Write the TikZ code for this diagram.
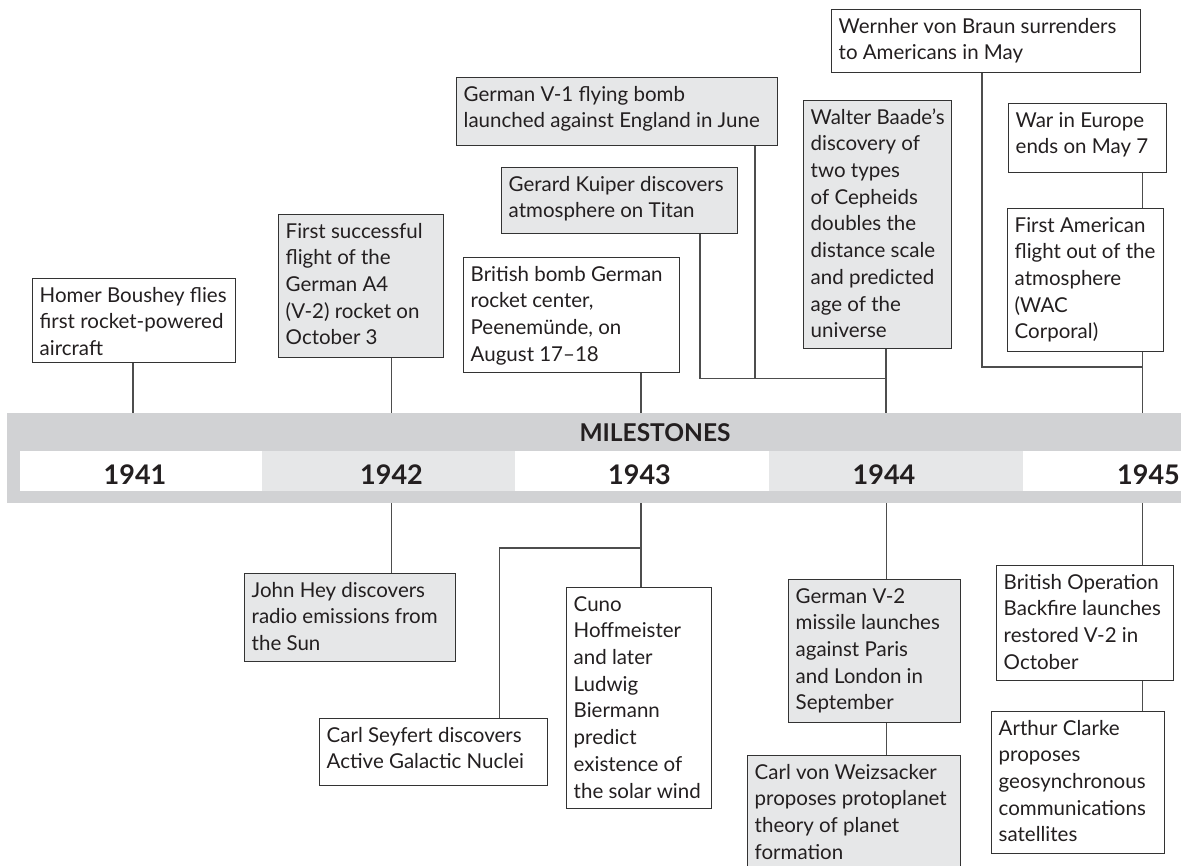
\documentclass[tikz,border=0pt]{standalone}
\usepackage{fontspec}
\setmainfont{Lato}

\definecolor{bandgray}{RGB}{209,210,212}
\definecolor{cellgray}{RGB}{230,231,232}
\definecolor{boxgray}{RGB}{230,231,232}
\definecolor{boxline}{RGB}{51,51,51}
\definecolor{linegray}{RGB}{77,77,77}
\definecolor{ink}{RGB}{35,31,32}

\newcommand\evtfont{\fontsize{20.5}{26.7}\selectfont}
\newcommand\yearfont{\fontsize{27}{30}\selectfont\bfseries}
\newcommand\headfont{\fontsize{24.5}{28}\selectfont\bfseries}

% \evbox{name}{style}{left}{top}{right}{bottom}{text}
\newcommand\evbox[7]{%
  \node[#2] (#1) at (#3,#4)
    {\parbox[c][\dimexpr#6pt-#4pt\relax][t]{\dimexpr#5pt-#3pt-14pt\relax}%
      {\raggedright\vspace*{4.8pt}\strut#7}};}

\begin{document}
\begin{tikzpicture}[x=1pt,y=-1pt,
  evt/.style={draw=boxline, line width=1.4pt, inner xsep=7pt, inner ysep=0pt,
              anchor=north west, font=\evtfont, text=ink},
  plain/.style={evt, fill=white},
  shaded/.style={evt, fill=boxgray},
  link/.style={draw=linegray, line width=1.2pt},
  cell/.style={inner sep=0pt, anchor=north west, minimum height=40pt},
  yearlbl/.style={anchor=base, inner sep=0pt, font=\yearfont, text=ink}]

\useasboundingbox (0,0) rectangle (1181,866);

% timeline band with year cells
\node[inner sep=0pt, anchor=north west, fill=bandgray,
      minimum width=1180pt, minimum height=90pt] (band) at (7,413) {};
\node[cell, fill=white,    minimum width=242pt] (c41) at (20,451) {};
\node[cell, fill=cellgray, minimum width=253pt] (c42) at (262,451) {};
\node[cell, fill=white,    minimum width=254pt] (c43) at (515,451) {};
\node[cell, fill=cellgray, minimum width=254pt] (c44) at (769,451) {};
\node[cell, fill=white,    minimum width=170pt] (c45) at (1023,451) {};

\node[anchor=base, inner sep=0pt, font=\headfont, text=ink] (head) at (655,441.5) {MILESTONES};
\node[yearlbl] (y41) at (135,484) {1941};
\node[yearlbl] (y42) at (391.5,484) {1942};
\node[yearlbl] (y43) at (639.5,484) {1943};
\node[yearlbl] (y44) at (884,484) {1944};
\node[yearlbl] (y45) at (1148.5,484) {1945};

% attachment points on the band
\coordinate (t41) at (133,413);
\coordinate (t42) at (391.5,413);
\coordinate (t43) at (641,413);
\coordinate (t44) at (886,413);
\coordinate (t45) at (1142.5,413);
\coordinate (b42) at (391.5,503);
\coordinate (b43) at (641,503);
\coordinate (b44) at (886.5,503);
\coordinate (b45) at (1142.5,503);

% junctions and drop lines
\coordinate (j44) at (886,378.3);
\coordinate (j45) at (1142.5,367);
\coordinate (j43) at (641,548);
\coordinate (kx) at (700,0);
\coordinate (vx) at (755,0);
\coordinate (bx) at (982,0);
\coordinate (sx) at (499.3,0);

% events above the band
\evbox{homer}{plain}{32}{278}{235}{362}{Homer Boushey flies\\first rocket-powered\\aircraft}
\evbox{first}{shaded}{278}{214}{443}{357}{First successful\\flight of the\\German A4\\(V-2) rocket on\\October 3}
\evbox{bomb}{plain}{463}{257}{679}{372}{British bomb German\\rocket center,\\Peenemünde, on\\August 17--18}
\evbox{kuiper}{shaded}{501}{167}{737}{233}{Gerard Kuiper discovers\\atmosphere on Titan}
\evbox{v1}{shaded}{456}{77}{777}{145}{German V-1 flying bomb\\launched against England in June}
\evbox{baade}{shaded}{803}{100}{951}{348}{Walter Baade’s\\discovery of\\two types\\of Cepheids\\doubles the\\distance scale\\and predicted\\age of the\\universe}
\evbox{braun}{plain}{831}{9}{1140}{72}{Wernher von Braun surrenders\\to Americans in May}
\evbox{war}{plain}{1008}{103}{1166}{172}{War in Europe\\ends on May 7}
\evbox{wac}{plain}{1007}{208}{1163}{351}{First American\\flight out of the\\atmosphere\\(WAC\\Corporal)}

% events below the band
\evbox{hey}{shaded}{244}{573}{455}{661}{John Hey discovers\\radio emissions from\\the Sun}
\evbox{seyfert}{plain}{319}{718}{547}{785}{Carl Seyfert discovers\\Active Galactic Nuclei}
\evbox{cuno}{plain}{566}{587}{711}{808}{Cuno\\Hoffmeister\\and later\\Ludwig\\Biermann\\predict\\existence of\\the solar wind}
\evbox{v2}{shaded}{788}{579}{960}{722}{German V-2\\missile launches\\against Paris\\and London in\\September}
\evbox{weiz}{shaded}{747}{755}{960}{880}{Carl von Weizsacker\\proposes protoplanet\\theory of planet\\formation}
\evbox{backfire}{plain}{996}{565}{1173}{680}{British Operation\\Backfire launches\\restored V-2 in\\October}
\evbox{clarke}{plain}{991}{711}{1164}{853}{Arthur Clarke\\proposes\\geosynchronous\\communications\\satellites}

% connectors above
\draw[link] (homer.south -| t41) -- (t41);
\draw[link] (first.south -| t42) -- (t42);
\draw[link] (bomb.south -| t43) -- (t43);
\draw[link] (baade.south -| t44) -- (t44);
\draw[link] (kuiper.south -| kx) |- (j44);
\draw[link] (v1.south -| vx) -- (vx |- j44);
\draw[link] (braun.south -| bx) |- (j45);
\draw[link] (war.south -| t45) -- (wac.north -| t45);
\draw[link] (wac.south -| t45) -- (t45);

% connectors below
\draw[link] (b42) -- (hey.north -| b42);
\draw[link] (b43) -- (cuno.north -| b43);
\draw[link] (seyfert.north -| sx) |- (j43);
\draw[link] (b44) -- (v2.north -| b44);
\draw[link] (v2.south -| b44) -- (weiz.north -| b44);
\draw[link] (b45) -- (backfire.north -| b45);
\draw[link] (backfire.south -| b45) -- (clarke.north -| b45);

\end{tikzpicture}
\end{document}
